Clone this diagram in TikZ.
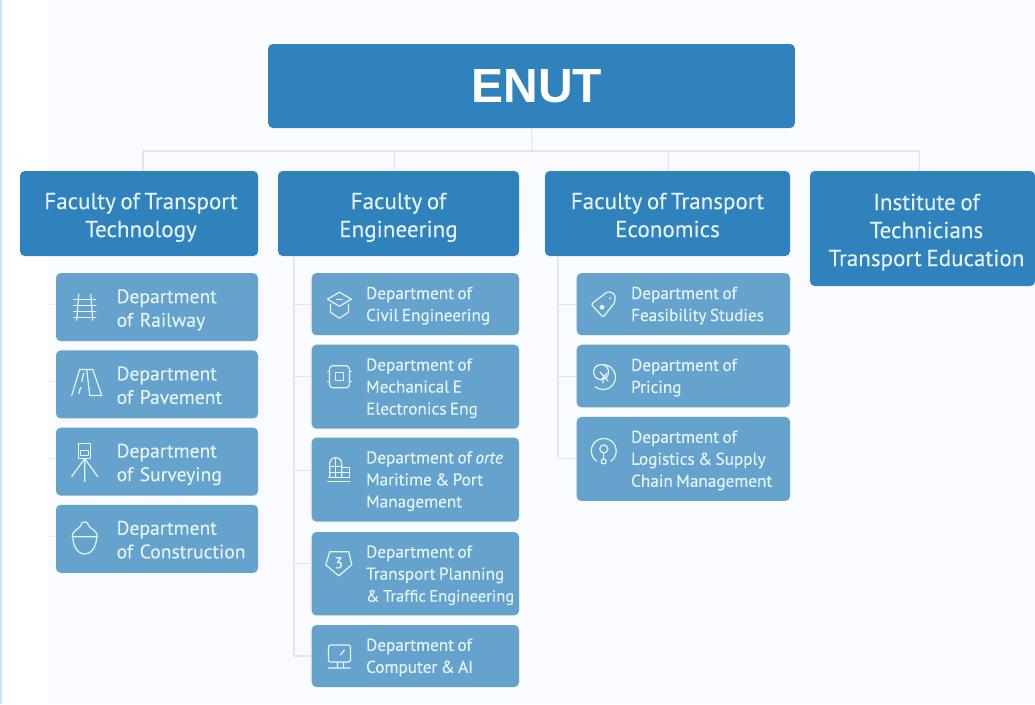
\documentclass[tikz,border=0pt]{standalone}
\usepackage{xcolor}
\usepackage{fontspec}
\setmainfont{PT Sans}[FakeBold=0.12]
\newfontfamily\rootfont{Liberation Sans}
\usepackage{tikz}
\usetikzlibrary{positioning}

\definecolor{facultyblue}{HTML}{2F82BB}
\definecolor{deptblue}{HTML}{65A3CD}
\definecolor{paneltint}{HTML}{F9FBFE}
\definecolor{edgetint}{HTML}{C4E5FF}
\definecolor{linetint}{HTML}{E1E7ED}
\definecolor{inktint}{HTML}{E6F3FA}

\newcommand{\padone}{\hspace*{3pt}}
\newcommand{\padtwo}{\hspace*{6pt}}

\tikzset{
    boxbase/.style={rounded corners=3.5pt,inner xsep=0pt,inner ysep=0pt,text=inktint},
    faculty/.style={boxbase,fill=facultyblue,align=center,font=\fontsize{17.3}{21}\selectfont,
        execute at begin node={\spaceskip=0.2em\rule{0pt}{20.6pt}},execute at end node={\strut}},
    deptwide/.style={boxbase,fill=deptblue,minimum width=151.5pt,text width=151.5pt,align=left,
        font=\fontsize{14.7}{17.7}\selectfont,
        execute at begin node={\leftskip=45.5pt\rule{0pt}{16.9pt}},execute at end node={\strut}},
    deptnarrow/.style={boxbase,fill=deptblue,minimum width=155.5pt,text width=155.5pt,align=left,
        font=\fontsize{12.9}{16.5}\selectfont,
        execute at begin node={\leftskip=40.8pt\spaceskip=0.2em\rule{0pt}{13.7pt}},execute at end node={\strut}},
    branch/.style={draw=linetint,line width=0.8pt},
    glyph/.style={draw=inktint,line width=0.9pt,line cap=round,line join=round},
    railicon/.pic={
        \draw[glyph] (-6,-13) -- (-8,13) (6,-13) -- (8,13);
        \foreach \y in {-8,-2,4,10} \draw[glyph] (-11,\y) -- (11,\y);
    },
    roadicon/.pic={
        \draw[glyph] (-5,-15) -- (8,-15) (-5,-15) -- (-13,11) (8,-15) -- (17,11) -- (5,11) -- (2,-15)
            (-1,-11) -- (-3,-3) (-4,3) -- (-6,9);
    },
    surveyicon/.pic={
        \draw[glyph] (-6,-18) rectangle (6,-3) (-4,-11) rectangle (4,-6);
        \draw[glyph] (0,-3) -- (-13,15) (0,-3) -- (0,20) (0,-3) -- (13,15);
    },
    helmeticon/.pic={
        \draw[glyph] (-12.5,-2) .. controls (-12.5,-9) and (-5,-10) .. (-4,-13) arc (180:360:4)
            .. controls (5,-10) and (12.5,-9) .. (12.5,-2) -- cycle;
        \draw[glyph] (-12,-2) .. controls (-11,21) and (11,21) .. (12,-2);
    },
    capicon/.pic={
        \draw[glyph] (-12,-5) -- (0,-12) -- (12,-5) -- (0,2) -- cycle;
        \draw[glyph] (-9,0) -- (-9,8) -- (0,14) -- (9,8) -- (9,0);
        \draw[glyph] (-3,-5) -- (3,-5);
    },
    chipicon/.pic={
        \draw[glyph,rounded corners=2.5pt] (-10,-11) rectangle (10,11);
        \draw[glyph] (-4,-4) rectangle (4,4);
        \foreach \s in {-1,1} \draw[glyph] (\s*10,-5) -- (\s*12,-5) (\s*10,5) -- (\s*12,5);
    },
    buildicon/.pic={
        \draw[glyph] (-11,12) -- (11,12) (-10,8) -- (11,8);
        \draw[glyph] (-9,8) -- (-9,-6) arc (180:360:6) -- (3,8);
        \draw[glyph] (-9,-3) -- (3,-3) (-9,3) -- (3,3) (-3,-12) -- (-3,8);
        \draw[glyph] (3,-2) rectangle (11,8) (3,3) -- (11,3);
    },
    pentaicon/.pic={
        \draw[glyph] (-9,-12) -- (10,-12) -- (13,1) -- (0,12) -- (-13,1) -- cycle;
        \node[text=inktint,font=\fontsize{12}{12}\selectfont] (three) at (0,-1) {3};
    },
    screenicon/.pic={
        \draw[glyph,rounded corners=1.5pt] (-11,-11) rectangle (11,6);
        \draw[glyph] (-2,6) -- (-2,11) (4,6) -- (4,11) (-11,12) -- (11,12) (1,-1) -- (5,-6);
    },
    tagicon/.pic={
        \draw[glyph,rounded corners=1.5pt] (-12,0) -- (5,-13) -- (12,-10) -- (12,-2) -- (0,13) -- cycle;
        \fill[inktint] (-1,3) circle (2.4);
        \fill[inktint] (7,-6) circle (1);
    },
    coinicon/.pic={
        \draw[glyph] (-8,10.6) arc (130:-90:12.5);
        \draw[glyph] (-2,-4) circle (7.5);
        \draw[glyph] (-3,-4) -- (5,5) (4,-3) -- (-2,4) (0,2) -- (0,7);
    },
    routeicon/.pic={
        \draw[glyph] (-7.2,10.2) arc (125:415:12.5);
        \draw[glyph] (0,-2) circle (4);
        \draw[glyph] (0,2) -- (0,8);
        \draw[glyph] (0,10.5) circle (2.5);
    },
}

\begin{document}
\begin{tikzpicture}[x=0.75pt,y=-0.75pt]
    \useasboundingbox (0,0) rectangle (1035,704);
    \fill[paneltint] (48,0) rectangle (1035,704);
    \fill[edgetint] (0,0) rectangle (1.5,704);

    \node[boxbase,fill=facultyblue,minimum width=395pt,minimum height=63pt,
          font=\rootfont\bfseries\fontsize{36}{36}\selectfont,text=white] (root) at (531.5,86) {\hspace*{8pt}\raisebox{-0.75pt}{ENUT}};

    \node[faculty,text width=178.5pt,minimum height=63.75pt] (fone) at (139,213.5) {\padone Faculty of Transport\\\padone Technology};
    \node[faculty,text width=180.75pt,minimum height=63.75pt] (ftwo) at (398.5,213.5) {Faculty of\\Engineering};
    \node[faculty,text width=183.75pt,minimum height=63.75pt] (fthree) at (667.5,213.5) {Faculty of Transport\\Economics};
    \node[faculty,text width=168.75pt,minimum height=86.25pt] (ffour) at (922.5,228.5) {\padtwo Institute of\\\padtwo Technicians\\\padtwo Transport Education};

    \node[deptwide,minimum height=51pt,below left=12.5pt and 0pt of fone.south east] (railway) {Department\\of Railway};
    \node[deptwide,minimum height=51pt,below=6.5pt of railway] (pavement) {Department\\of Pavement};
    \node[deptwide,minimum height=51pt,below=6.5pt of pavement] (surveying) {Department\\of Surveying};
    \node[deptwide,minimum height=51pt,below=6.5pt of surveying] (construction) {Department\\of Construction};

    \node[deptnarrow,minimum height=46.5pt,below left=12.5pt and 0pt of ftwo.south east] (civil) {Department of\\Civil Engineering};
    \node[deptnarrow,minimum height=63pt,below=6.75pt of civil] (mechanical) {Department of\\Mechanical E\\Electronics Eng};
    \node[deptnarrow,minimum height=63pt,below=6.25pt of mechanical] (maritime) {Department of \textit{orte}\\Maritime \& Port\\Management};
    \node[deptnarrow,minimum height=62.5pt,below=7.5pt of maritime] (planning) {Department of\\Transport Planning\\{\fontsize{12.4}{16.5}\selectfont\mbox{\& Traffic Engineering}}};
    \node[deptnarrow,minimum height=46.5pt,below=6.75pt of planning] (computer) {Department of\\Computer \& AI};

    \node[deptnarrow,minimum width=160pt,text width=160pt,minimum height=46.5pt,below left=12.5pt and 0pt of fthree.south east] (feasibility) {Department of\\Feasibility Studies};
    \node[deptnarrow,minimum width=160pt,text width=160pt,minimum height=47pt,below=6.75pt of feasibility] (pricing) {Department of\\Pricing};
    \node[deptnarrow,minimum width=160pt,text width=160pt,minimum height=63pt,below=6.75pt of pricing] (logistics) {Department of\\Logistics \& Supply\\Chain Management};

    \coordinate (bus) at (532,151);
    \coordinate (marginline) at (48,0);
    \coordinate (spinetwo) at (294,256);
    \coordinate (spinethree) at (558,256);

    \draw[branch] (root.south) -- (bus);
    \draw[branch] (bus) -| ([xshift=3pt]fone.north);
    \draw[branch] (bus) -| ([xshift=-3pt]ftwo.north);
    \draw[branch] (bus) -| ([xshift=1pt]fthree.north);
    \draw[branch] (bus) -| ([xshift=-2pt]ffour.north);

    \foreach \dept/\shift in {railway/2,pavement/2,surveying/2,construction/2}
        \draw[branch,draw=linetint!70] ([yshift=\shift pt]\dept.west) -- ([yshift=\shift pt]\dept.west -| marginline);
    \foreach \dept/\shift in {civil/0,mechanical/7.5,maritime/6.75,planning/7.5,computer/0}
        \draw[branch] ([yshift=\shift pt]\dept.west) -| (spinetwo);
    \foreach \dept/\shift in {feasibility/0,pricing/0,logistics/0}
        \draw[branch] ([yshift=\shift pt]\dept.west) -| (spinethree);

    \pic at ([xshift=21.75pt]railway.west) {railicon};
    \pic at ([xshift=21.75pt]pavement.west) {roadicon};
    \pic at ([xshift=21.75pt]surveying.west) {surveyicon};
    \pic at ([xshift=21.75pt]construction.west) {helmeticon};
    \pic at ([xshift=21pt]civil.west) {capicon};
    \pic at ([xshift=21pt,yshift=7.5pt]mechanical.west) {chipicon};
    \pic at ([xshift=20.5pt,yshift=7.5pt]maritime.west) {buildicon};
    \pic at ([xshift=20.5pt,yshift=7.5pt]planning.west) {pentaicon};
    \pic at ([xshift=21pt]computer.west) {screenicon};
    \pic at ([xshift=20pt]feasibility.west) {tagicon};
    \pic at ([xshift=20pt]pricing.west) {coinicon};
    \pic at ([xshift=20.5pt,yshift=6pt]logistics.west) {routeicon};
\end{tikzpicture}
\end{document}
